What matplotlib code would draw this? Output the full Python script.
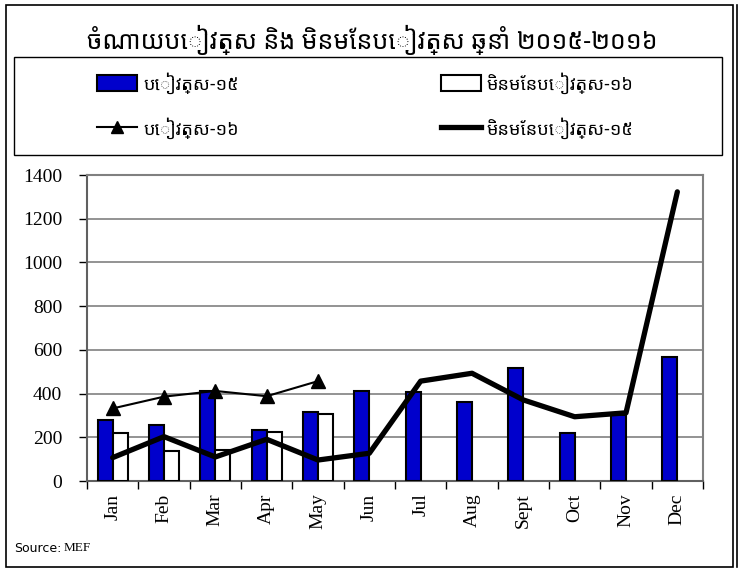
import matplotlib
matplotlib.use('Agg')
from matplotlib import pyplot as plt
from matplotlib.patches import Rectangle, Patch
from matplotlib.lines import Line2D
import numpy as np

months = ['Jan', 'Feb', 'Mar', 'Apr', 'May', 'Jun', 'Jul', 'Aug', 'Sept', 'Oct', 'Nov', 'Dec']
# wage 2015 (blue bars), all months
wage_15 = [279, 256, 413, 233, 317, 413, 407, 363, 515, 218, 302, 569]
# non-wage 2016 (white bars), Jan-May only
nonwage_16 = [218, 139, 141, 225, 305]
# wage 2016 (line with triangles), Jan-May only
wage_16 = [332, 386, 412, 388, 457]
# non-wage 2015 (thick black line), all months
nonwage_15 = [107, 203, 110, 191, 96, 127, 457, 493, 371, 294, 312, 1323]

title = 'ចំណាយបៀវត្ស និង មិនមែនបៀវត្ស ឆ្នាំ ២០១៥-២០១៦'
lbl_wage_15 = 'បៀវត្ស-១៥'
lbl_nonwage_16 = 'មិនមែនបៀវត្ស-១៦'
lbl_wage_16 = 'បៀវត្ស-១៦'
lbl_nonwage_15 = 'មិនមែនបៀវត្ស-១៥'

khmer = ['Noto Sans Khmer', 'Khmer OS', 'Noto Serif Khmer', 'DejaVu Sans']
serif = 'Liberation Serif'
plt.rcParams['font.family'] = serif

fig = plt.figure(figsize=(7.4, 5.71), dpi=100)
ax = fig.add_axes([0.1176, 0.1576, 0.8324, 0.5359])

x = np.arange(len(months))
w = 0.29
ax.bar(x[:len(wage_15)] - w / 2, wage_15, width=w, color='#0000cc', edgecolor='black', linewidth=1.5, zorder=3)
ax.bar(x[:len(nonwage_16)] + w / 2, nonwage_16, width=w, color='white', edgecolor='black', linewidth=1.5, zorder=3)
ax.plot(x[:len(wage_16)], wage_16, color='black', linewidth=1.5, marker='^', markersize=10, zorder=4)
ax.plot(x[:len(nonwage_15)], nonwage_15, color='black', linewidth=3.8, solid_capstyle='round', zorder=4)

ax.set_xlim(-0.5, len(months) - 0.5)
ax.set_ylim(0, 1400)
ax.set_yticks(range(0, 1401, 200))
ax.grid(axis='y', color='#808080', linewidth=1.2, zorder=0)
ax.set_axisbelow(True)

ax.set_xticks(np.arange(-0.5, len(months), 1.0))
ax.set_xticklabels([])
ax.set_xticks(x, minor=True)
ax.set_xticklabels(months, minor=True, rotation=90)
ax.tick_params(axis='x', which='minor', length=0, pad=9, labelsize=14)
ax.tick_params(axis='x', which='major', length=6, width=1, color='black', direction='out')
ax.tick_params(axis='y', length=6, width=1, direction='out', pad=12, labelsize=14)

for side in ['top', 'right']:
    ax.spines[side].set_color('#808080')
    ax.spines[side].set_linewidth(1.5)
ax.spines['left'].set_color('#606060')
ax.spines['left'].set_linewidth(1.5)
ax.spines['bottom'].set_color('#606060')
ax.spines['bottom'].set_linewidth(1.5)

fig.text(0.503, 0.93, title, ha='center', va='center', fontsize=18, fontweight='bold', family=khmer)

# legend frame drawn separately so the entries can sit where the reference has them
fig.add_artist(Rectangle((0.019, 0.7285), 0.957, 0.1715, transform=fig.transFigure,
                         fill=False, edgecolor='black', linewidth=1.0))
handles = [
    Patch(facecolor='#0000cc', edgecolor='black', linewidth=1.5),
    Line2D([], [], color='black', linewidth=1.5, marker='^', markersize=8),
    Patch(facecolor='white', edgecolor='black', linewidth=1.5),
    Line2D([], [], color='black', linewidth=3.8),
]
labels = [lbl_wage_15, lbl_wage_16, lbl_nonwage_16, lbl_nonwage_15]
leg = fig.legend(handles, labels, ncol=2, loc='upper left',
                 bbox_to_anchor=(97 / 740, 1 - 72 / 571), bbox_transform=fig.transFigure,
                 frameon=False, borderpad=0, borderaxespad=0,
                 handlelength=2.2, handleheight=1.0, handletextpad=0.35, labelspacing=1.3,
                 columnspacing=11.2, prop={'family': khmer, 'size': 13})

fig.text(14 / 740, 1 - 548 / 571, 'Source:', fontsize=9, family='DejaVu Sans', va='center')
fig.text(64 / 740, 1 - 548 / 571, 'MEF', fontsize=9.5, family=serif, va='center')

# outer border
fig.add_artist(Rectangle((0.008, 0.007), 0.982, 0.985, transform=fig.transFigure,
                         fill=False, edgecolor='black', linewidth=1.2))
fig.add_artist(Line2D([0.996, 0.996], [0.007, 0.992], transform=fig.transFigure,
                      color='black', linewidth=1.2))

plt.savefig('out.png', dpi=100)
